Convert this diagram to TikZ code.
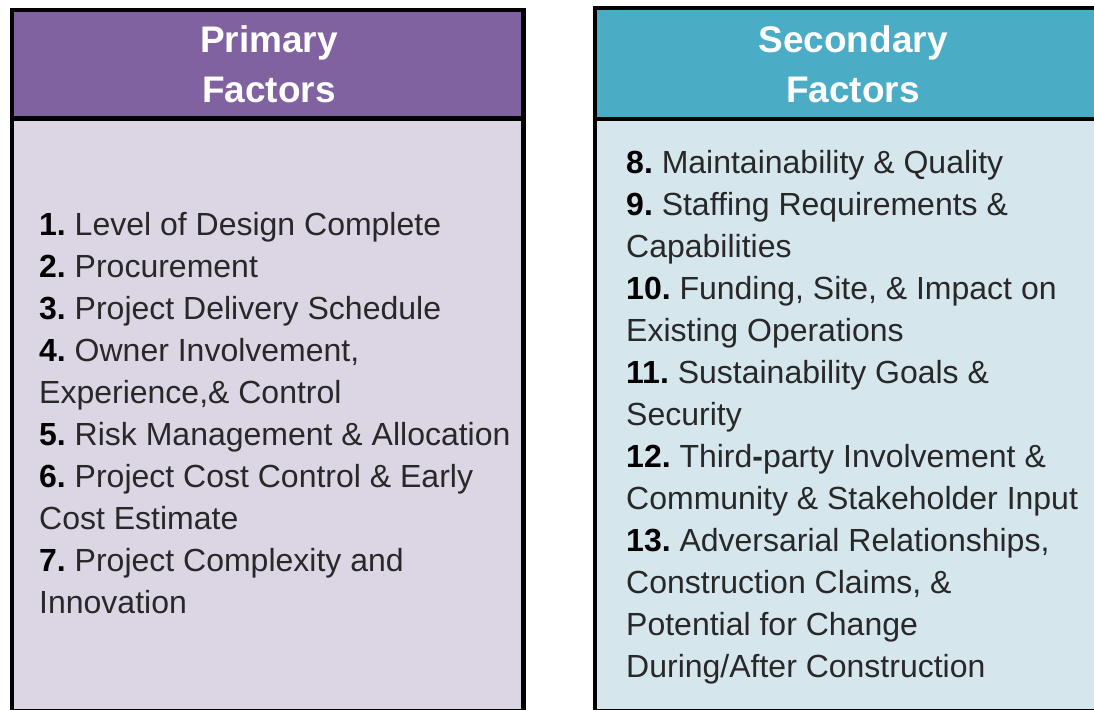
\documentclass[tikz,border=0pt]{standalone}
\usepackage{fontspec}
\setmainfont{Liberation Sans}
\definecolor{purplehead}{RGB}{128,98,160}
\definecolor{purplebody}{RGB}{220,214,228}
\definecolor{tealhead}{RGB}{75,172,198}
\definecolor{tealbody}{RGB}{214,230,237}
\definecolor{bodytext}{RGB}{40,40,40}
\newcommand\fnum[1]{{\bfseries\color{black}#1}\hspace{-3pt}}
\tikzset{
  boxline/.style={draw=black, line width=4.5pt},
  headtext/.style={text=white, font=\fontsize{37}{50}\selectfont\bfseries, align=center, inner sep=0pt, anchor=north},
  bodytxt/.style={text=bodytext, font=\fontsize{32}{42}\selectfont, align=left, inner sep=0pt, anchor=north west}
}
\begin{document}
\begin{tikzpicture}[x=1pt,y=-1pt]
\clip (0,0) rectangle (1094,709);
% left box
\fill[purplebody] (12,118.5) rectangle (523.5,711.5);
\fill[purplehead] (12,10) rectangle (523.5,118.5);
\draw[boxline] (12,10) rectangle (523.5,711.5);
\draw[boxline] (12,118.5) -- (523.5,118.5);
% right box
\fill[tealbody] (595,119) rectangle (1112,711.5);
\fill[tealhead] (595,8) rectangle (1112,119);
\draw[boxline] (595,8) rectangle (1112,711.5);
\draw[boxline] (595,119) -- (1112,119);
% headers
\node[headtext] (ph) at (269,17) {\strut Primary\\Factors};
\node[headtext] (sh) at (853,17) {\strut Secondary\\Factors};
% bodies
\node[bodytxt] (pb) at (39,205.6) {\strut\fnum{1.} Level of Design Complete\\
\fnum{2.} Procurement\\
\fnum{3.} Project Delivery Schedule\\
\fnum{4.} Owner Involvement,\\
Experience,\& Control\\
\fnum{5.} Risk Management \& Allocation\\
\fnum{6.} Project Cost Control \& Early\\
Cost Estimate\\
\fnum{7.} Project Complexity and\\
Innovation};
\node[bodytxt] (sb) at (626,143.6) {\strut\fnum{8.} Maintainability \& Quality\\
\fnum{9.} Staffing Requirements \&\\
Capabilities\\
\fnum{10.} Funding, Site, \& Impact on\\
Existing Operations\\
\fnum{11.} Sustainability Goals \&\\
Security\\
\fnum{12.} Third{\bfseries-}party Involvement \&\\
Community \& Stakeholder Input\\
\fnum{13.} Adversarial Relationships,\\
Construction Claims, \&\\
Potential for Change\\
During/After Construction};
\end{tikzpicture}
\end{document}
